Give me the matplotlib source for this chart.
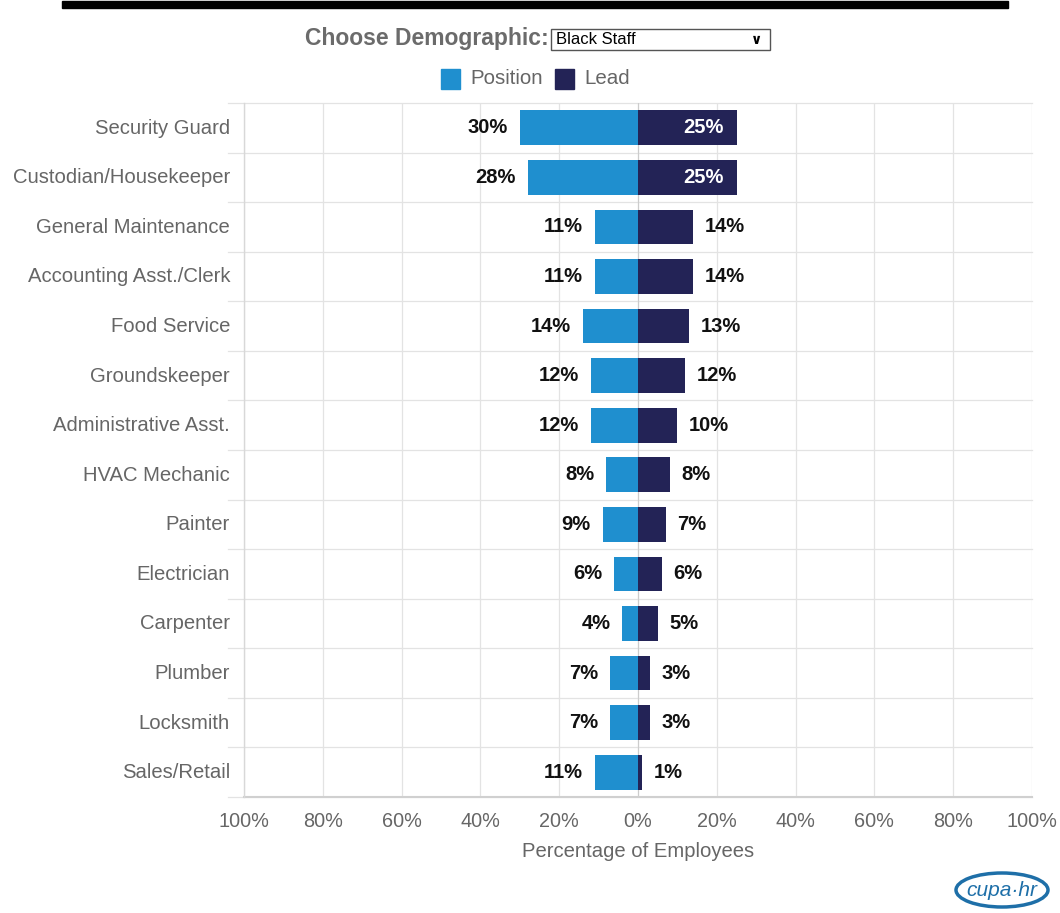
import matplotlib.pyplot as plt
from matplotlib.patches import Rectangle, Ellipse

plt.rcParams['font.family'] = ['Liberation Sans', 'DejaVu Sans']

# Data
categories = ['Security Guard', 'Custodian/Housekeeper', 'General Maintenance',
              'Accounting Asst./Clerk', 'Food Service', 'Groundskeeper',
              'Administrative Asst.', 'HVAC Mechanic', 'Painter', 'Electrician',
              'Carpenter', 'Plumber', 'Locksmith', 'Sales/Retail']
position = [30, 28, 11, 11, 14, 12, 12, 8, 9, 6, 4, 7, 7, 11]
lead = [25, 25, 14, 14, 13, 12, 10, 8, 7, 6, 5, 3, 3, 1]
ticks = [-100, -80, -60, -40, -20, 0, 20, 40, 60, 80, 100]
tick_labels = ['100%', '80%', '60%', '40%', '20%', '0%', '20%', '40%', '60%', '80%', '100%']

pos_color = '#1f8fcf'
lead_color = '#232356'
grey = '#666666'

fig = plt.figure(figsize=(10.6, 9.13), dpi=100)
ax = fig.add_axes([0.2302, 0.1271, 0.7434, 0.7601])

y = list(range(len(categories)))
ax.barh(y, [-v for v in position], height=0.7, color=pos_color, zorder=3)
ax.barh(y, lead, height=0.7, color=lead_color, zorder=3)

for i in y:
    ax.text(-position[i] - 3, i, f'{position[i]}%', ha='right', va='center',
            fontsize=14.5, fontweight='bold', color='#111111', zorder=4)
    if lead[i] >= 20:
        ax.text(lead[i] - 3.3, i, f'{lead[i]}%', ha='right', va='center',
                fontsize=14.5, fontweight='bold', color='white', zorder=4)
    else:
        ax.text(lead[i] + 3, i, f'{lead[i]}%', ha='left', va='center',
                fontsize=14.5, fontweight='bold', color='#111111', zorder=4)

ax.set_xlim(-100, 100)
ax.set_ylim(len(categories) - 0.5, -0.5)
ax.set_xticks(ticks)
ax.set_xticklabels(tick_labels)
ax.set_yticks([i - 0.03 for i in y])
ax.set_yticklabels(categories)
ax.tick_params(axis='x', colors=grey, labelsize=14.3, length=0, pad=11)
ax.tick_params(axis='y', colors=grey, labelsize=14.6, length=0, pad=10)
ax.set_xlabel('Percentage of Employees', fontsize=14.6, color=grey, labelpad=8)

# grid: vertical lines at ticks, horizontal lines between categories
for t in ticks:
    ax.axvline(t, color='#e3e3e3', linewidth=0.9, zorder=1)
for b in [i + 0.5 for i in range(-1, len(categories))]:
    ax.plot([-104, 100], [b, b], color='#e3e3e3', linewidth=0.9, zorder=1,
            clip_on=False)
ax.axvline(0, color='#cccccc', linewidth=0.8, zorder=2)
for s in ax.spines.values():
    s.set_visible(False)
ax.plot([-100, 100], [len(categories) - 0.5] * 2, color='#d0d0d0',
        linewidth=1.5, zorder=2, clip_on=False)
ax.plot([-100, -100], [-0.5, len(categories) - 0.5], color='#d8d8d8',
        linewidth=1, zorder=2, clip_on=False)

# header bar
fig.add_artist(Rectangle((62 / 1060, 1 - 8 / 913), (1008 - 62) / 1060, 7 / 913,
                         transform=fig.transFigure, color='black'))

# dropdown
fig.text(549 / 1060, 1 - 39 / 913, 'Choose Demographic:', ha='right', va='center',
         fontsize=16.5, fontweight='bold', color='#6b6b6b')
fig.add_artist(Rectangle((551 / 1060, 1 - 50 / 913), 219 / 1060, 21 / 913,
                         transform=fig.transFigure, facecolor='white',
                         edgecolor='#555555', linewidth=1))
fig.text(556 / 1060, 1 - 40 / 913, 'Black Staff', ha='left', va='center',
         fontsize=12, color='black')
fig.text(757 / 1060, 1 - 40 / 913, '\u2228', ha='center', va='center',
         fontsize=10, fontweight='bold', color='black', family='DejaVu Sans')

# legend
fig.add_artist(Rectangle((441 / 1060, 1 - 89 / 913), 19 / 1060, 20 / 913,
                         transform=fig.transFigure, color=pos_color))
fig.text(470 / 1060, 1 - 78 / 913, 'Position', ha='left', va='center',
         fontsize=14.8, color=grey)
fig.add_artist(Rectangle((555 / 1060, 1 - 89 / 913), 19 / 1060, 20 / 913,
                         transform=fig.transFigure, color=lead_color))
fig.text(584 / 1060, 1 - 78 / 913, 'Lead', ha='left', va='center',
         fontsize=14.8, color=grey)

# logo
fig.add_artist(Ellipse((1002 / 1060, 1 - 890 / 913), 92 / 1060, 34 / 913,
                       transform=fig.transFigure, fill=False,
                       edgecolor='#1e6fa8', linewidth=2.5))
fig.text(1002 / 1060, 1 - 890 / 913, 'cupa\u00b7hr', ha='center', va='center',
         fontsize=15, style='italic', color='#1e6fa8')

fig.savefig('out.png', dpi=100, facecolor='white')
